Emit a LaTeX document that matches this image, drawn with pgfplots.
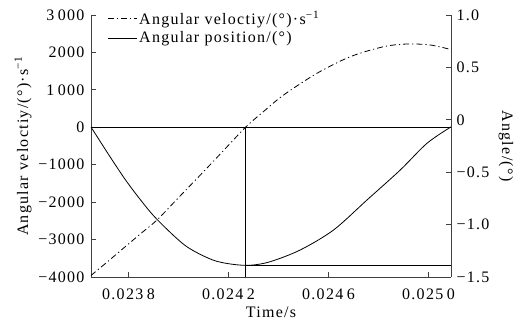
\documentclass[border=0pt]{standalone}
\usepackage{fontspec}
\setmainfont{Liberation Serif}[LetterSpace=8]
\usepackage{pgfplots}
\pgfplotsset{compat=1.18}
\newcommand{\gap}{\hspace{0.22em}}
\begin{document}
\begin{tikzpicture}
\pgfplotsset{
  common/.style={
    width=360pt, height=262pt, scale only axis,
    xmin=0.02365, xmax=0.02509,
    scaled ticks=false,
    tick align=inside, major tick length=5pt,
    axis line style={-, line width=0.8pt, black!75},
    tick style={line width=0.8pt, black!75},
    font=\fontsize{16}{19}\selectfont,
  }
}
\begin{axis}[common, name=ax,
  axis x line*=bottom, axis y line*=left,
  ymin=-4000, ymax=3000,
  ytick={-4000,-3000,-2000,-1000,0,1000,2000,3000},
  yticklabels={−4000,−3000,−2000,−1000,0,1\gap000,2000,3\gap000},
  xtick={0.0238,0.0242,0.0246,0.0250},
  xticklabels={0.023\gap8,0.024\gap2,0.024\gap6,0.025\gap0},
  xticklabel style={anchor=center, yshift=-17.5pt},
  yticklabel style={anchor=east, xshift=-3pt},
  xlabel={Time/s},
  ylabel={Angular veloctiy/(°)·s\textsuperscript{−1}},
  every axis x label/.style={at={(rel axis cs:0.5,0)}, yshift=-35pt, anchor=center},
  every axis y label/.style={at={(rel axis cs:0,0.5)}, xshift=-68pt, rotate=90, anchor=center},
  legend style={at={(rel axis cs:0.045,1.025)}, anchor=north west, draw=none, fill=none, inner sep=0pt, row sep=2pt},
  legend cell align=left,
  legend image code/.code={\draw[#1] (0pt,0pt) -- (29pt,0pt);},
]
\addplot[black, line width=0.8pt, dash pattern=on 6pt off 3pt on 1.2pt off 3pt, smooth] coordinates {
(0.02365,-3960)
(0.02372,-3570)
(0.023787,-3190)
(0.02385,-2835)
(0.023914,-2477)
(0.02400,-1880)
(0.024094,-1229)
(0.02418,-622)
(0.024268,0)
(0.02434,420)
(0.02442,860)
(0.024554,1443)
(0.024687,1886)
(0.02482,2153)
(0.024914,2225)
(0.025007,2199)
(0.025091,2075)
};
\addlegendentry{Angular veloctiy/(°)·s\textsuperscript{−1}}
\addlegendimage{black, line width=0.8pt}
\addlegendentry{Angular position/(°)}
\addplot[black, line width=0.8pt, forget plot] coordinates {(0.02365,0) (0.02509,0)};
\addplot[black, line width=0.8pt, forget plot] coordinates {(0.024268,0) (0.024268,-4000)};
\addplot[black, line width=0.8pt, forget plot] coordinates {(0.024268,-3692) (0.02509,-3692)};
\end{axis}
\begin{axis}[common,
  axis x line=none, axis y line*=right, xtick=\empty,
  ymin=-1.5, ymax=1,
  ytick={-1.5,-1,-0.5,0,0.5,1},
  yticklabels={−1.5,−1.0,−0.5,0,0.5,1.0},
  yticklabel style={anchor=west, xshift=2pt},
  ylabel={Angle/(°)},
  every axis y label/.style={at={(rel axis cs:1,0.5)}, xshift=55pt, rotate=-90, anchor=center},
]
\addplot[black, line width=0.8pt, smooth] coordinates {
(0.02365,-0.069)
(0.02372,-0.33)
(0.023787,-0.57)
(0.02385,-0.77)
(0.023914,-0.95)
(0.024027,-1.20)
(0.024134,-1.335)
(0.024214,-1.378)
(0.024287,-1.388)
(0.024367,-1.354)
(0.024487,-1.242)
(0.02462,-1.052)
(0.024754,-0.765)
(0.024887,-0.479)
(0.024994,-0.224)
(0.025091,-0.066)
};
\end{axis}
\pgfresetboundingbox
\path[use as bounding box] ([xshift=-91pt,yshift=-45pt]ax.south west) rectangle ([xshift=72pt,yshift=15pt]ax.north east);
\end{tikzpicture}
\end{document}
